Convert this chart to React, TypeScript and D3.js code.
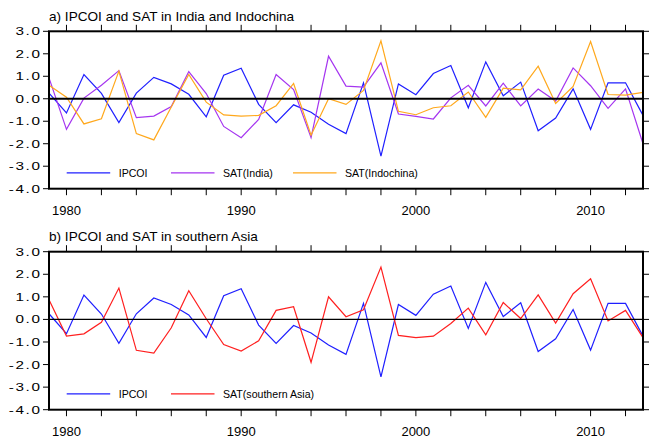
import React from "react";
import * as d3 from "d3";

const years = [
  1979, 1980, 1981, 1982, 1983, 1984, 1985, 1986, 1987, 1988, 1989, 1990, 1991, 1992, 1993, 1994, 1995,
  1996, 1997, 1998, 1999, 2000, 2001, 2002, 2003, 2004, 2005, 2006, 2007, 2008, 2009, 2010, 2011, 2012, 2013,
];

const ipcoi = [
  0.25, -0.63, 1.08, 0.24, -1.06, 0.25, 0.95, 0.66, 0.2, -0.8, 1.05, 1.36, -0.25, -1.06, -0.27, -0.6, -1.13,
  -1.55, 0.71, -2.55, 0.66, 0.18, 1.12, 1.48, -0.4, 1.64, 0.13, 0.74, -1.42, -0.86, 0.44, -1.36, 0.71, 0.71, -0.74,
];

const satIndia = [
  0.93, -1.36, 0.03, 0.6, 1.25, -0.84, -0.77, -0.35, 1.21, 0.23, -1.23, -1.73, -0.92, 1.08, 0.41, -1.73, 1.89,
  0.56, 0.52, 1.6, -0.68, -0.78, -0.9, 0.04, 0.6, -0.32, 0.69, -0.32, 0.43, -0.1, 1.37, 0.58, -0.43, 0.44, -2.0,
];

const satIndochina = [
  0.6, 0.07, -1.12, -0.89, 1.23, -1.55, -1.83, -0.37, 1.08, -0.15, -0.72, -0.77, -0.74, -0.31, 0.68, -1.62, 0.0,
  -0.25, 0.37, 2.58, -0.56, -0.71, -0.4, -0.31, 0.3, -0.83, 0.47, 0.4, 1.45, -0.21, 0.55, 2.54, 0.19, 0.16, 0.28,
];

const satSouthAsia = [
  0.87, -0.74, -0.64, -0.13, 1.39, -1.37, -1.49, -0.37, 1.27, 0.03, -1.11, -1.4, -0.95, 0.4, 0.56, -1.9, 1.0,
  0.12, 0.43, 2.32, -0.71, -0.81, -0.74, -0.18, 0.5, -0.68, 0.75, 0.04, 1.09, -0.16, 1.14, 1.8, -0.07, 0.4, -0.81,
];

const xLabelYears = [1980, 1990, 2000, 2010];
const yTicks = [-4, -3, -2, -1, 0, 1, 2, 3];

const W = 652;
const H = 438;
const FONT = "'Liberation Sans', Arial, Helvetica, sans-serif";

type Series = { name: string; values: number[]; color: string };

const x = d3.scaleLinear().domain([1979, 2013]).range([49, 643]);
const xMinor = d3.range(1980, 2013, 2);

function Panel({
  top,
  bottom,
  title,
  series,
  zeroWidth,
}: {
  top: number;
  bottom: number;
  title: string;
  series: Series[];
  zeroWidth: number;
}) {
  const y = d3.scaleLinear().domain([-4, 3]).range([bottom, top]);
  const line = (vals: number[]) =>
    d3
      .line<number>()
      .x((_, i) => x(years[i]))
      .y((d) => y(d))(vals) || "";
  const [x0, x1] = x.range();
  const legendY = y(-3.3);
  const legendSlots = [66.7, 171, 293];

  return (
    <g>
      <text x={x0} y={top - 10.5} fontSize={13.6} fontFamily={FONT}>
        {title}
      </text>
      {series.map((s) => (
        <path key={s.name} d={line(s.values)} fill="none" stroke={s.color} strokeWidth={1.2} />
      ))}
      <line x1={x0} x2={x1} y1={y(0)} y2={y(0)} stroke="#000" strokeWidth={zeroWidth} />
      {/* legend */}
      {series.map((s, i) => (
        <g key={s.name}>
          <line
            x1={legendSlots[i]}
            x2={legendSlots[i] + 43.5}
            y1={legendY}
            y2={legendY}
            stroke={s.color}
            strokeWidth={1.2}
          />
          <text x={legendSlots[i] + 52} y={legendY + 3.8} fontSize={10.6} fontFamily={FONT}>
            {s.name}
          </text>
        </g>
      ))}
      {/* frame */}
      <rect x={x0} y={top} width={x1 - x0} height={bottom - top} fill="none" stroke="#000" strokeWidth={2} />
      {/* x ticks, top and bottom, outward */}
      {xMinor.map((yr) => (
        <g key={yr}>
          <line x1={x(yr)} x2={x(yr)} y1={top} y2={top - 6.5} stroke="#000" strokeWidth={1} />
          <line x1={x(yr)} x2={x(yr)} y1={bottom} y2={bottom + 6.5} stroke="#000" strokeWidth={1} />
        </g>
      ))}
      {xLabelYears.map((yr) => (
        <text
          key={yr}
          x={x(yr)}
          y={bottom + 26.5}
          textAnchor="middle"
          fontSize={13}
          fontFamily={FONT}
        >
          {yr}
        </text>
      ))}
      {/* y ticks, left and right, outward */}
      {yTicks.map((v) => (
        <g key={v}>
          <line x1={x0} x2={x0 - 6} y1={y(v)} y2={y(v)} stroke="#000" strokeWidth={1} />
          <line x1={x1} x2={x1 + 6} y1={y(v)} y2={y(v)} stroke="#000" strokeWidth={1} />
          <text
            transform={`translate(41.5,${y(v) + 4}) scale(1.35,1)`}
            textAnchor="end"
            fontSize={11.3}
            fontFamily={FONT}
            letterSpacing={1.2}
          >
            {v.toFixed(1)}
          </text>
        </g>
      ))}
    </g>
  );
}

export default function App() {
  return (
    <svg
      width={W}
      height={H}
      viewBox={`0 0 ${W} ${H}`}
      style={{ position: "absolute", left: 0, top: 0, background: "#fff" }}
    >
      <rect width={W} height={H} fill="#fff" />
      <Panel
        top={31.3}
        bottom={188.7}
        title="a) IPCOI and SAT in India and Indochina"
        zeroWidth={2}
        series={[
          { name: "IPCOI", values: ipcoi, color: "#1f1fff" },
          { name: "SAT(India)", values: satIndia, color: "#a535f0" },
          { name: "SAT(Indochina)", values: satIndochina, color: "#ffa81c" },
        ]}
      />
      <Panel
        top={251.7}
        bottom={409.7}
        title="b) IPCOI and SAT in southern Asia"
        zeroWidth={1.4}
        series={[
          { name: "IPCOI", values: ipcoi, color: "#1f1fff" },
          { name: "SAT(southern Asia)", values: satSouthAsia, color: "#ff1f1f" },
        ]}
      />
    </svg>
  );
}
